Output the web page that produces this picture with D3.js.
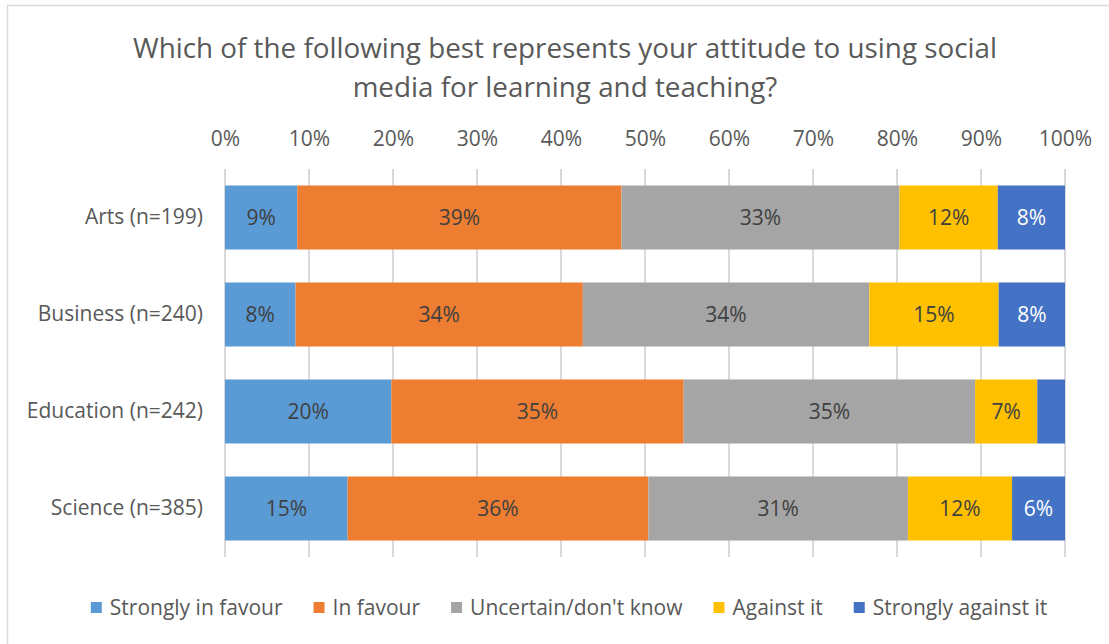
<!DOCTYPE html>
<html>
<head>
<meta charset="utf-8">
<script src="https://cdn.jsdelivr.net/npm/d3@7"></script>
<style>
  html, body { margin: 0; padding: 0; background: #ffffff; }
  svg { display: block; font-family: "Open Sans", "Noto Sans", sans-serif; }
</style>
</head>
<body>
<svg id="chart" width="1109" height="644"></svg>
<script>
// Survey responses by faculty, percent of respondents
const categories = ["Arts (n=199)", "Business (n=240)", "Education (n=242)", "Science (n=385)"];
const seriesNames = ["Strongly in favour", "In favour", "Uncertain/don't know", "Against it", "Strongly against it"];
const stronglyInFavour = [8.6, 8.4, 19.8, 14.6];
const inFavour = [38.6, 34.2, 34.8, 35.8];
const uncertain = [33.1, 34.1, 34.7, 30.9];
const againstIt = [11.7, 15.4, 7.4, 12.4];
const stronglyAgainst = [8.0, 7.9, 3.3, 6.3];
const tickValues = [0, 10, 20, 30, 40, 50, 60, 70, 80, 90, 100];
const titleLines = ["Which of the following best represents your attitude to using social", "media for learning and teaching?"];

const seriesValues = [stronglyInFavour, inFavour, uncertain, againstIt, stronglyAgainst];
const colors = ["#5B9BD5", "#ED7D31", "#A5A5A5", "#FFC000", "#4472C4"];
const labelColors = ["#404040", "#404040", "#404040", "#404040", "#ffffff"];
const fontSize = 21;

const svg = d3.select("#chart");
const W = 1109, H = 644;
const plot = { left: 225, right: 1065, top: 169, bottom: 557 };

// Outer chart frame
svg.append("rect")
  .attr("x", 7.5).attr("y", 5.5)
  .attr("width", W + 20).attr("height", H + 20)
  .attr("fill", "#ffffff")
  .attr("stroke", "#d9d9d9").attr("stroke-width", 1.5);

// Title
svg.append("g").selectAll("text")
  .data(titleLines).join("text")
  .attr("x", 565)
  .attr("y", (d, i) => 58 + i * 39)
  .attr("text-anchor", "middle")
  .attr("fill", "#595959")
  .attr("font-size", 27.8)
  .text(d => d);

const x = d3.scaleLinear().domain([0, 100]).range([plot.left, plot.right]);
const y = d3.scaleBand().domain(categories).range([plot.top, plot.bottom])
  .paddingInner(0.34).paddingOuter(0.17);

// Vertical gridlines
svg.append("g").selectAll("line")
  .data(tickValues).join("line")
  .attr("x1", d => x(d)).attr("x2", d => x(d))
  .attr("y1", plot.top).attr("y2", plot.bottom)
  .attr("stroke", "#d9d9d9").attr("stroke-width", 2);

// Top percentage axis
const xAxis = svg.append("g")
  .attr("transform", `translate(0, ${plot.top - 23})`)
  .call(d3.axisTop(x).tickValues(tickValues).tickFormat(d => d + "%").tickSize(0).tickPadding(0));
xAxis.select(".domain").remove();
xAxis.selectAll("text")
  .attr("fill", "#595959")
  .attr("font-size", fontSize)
  .attr("font-family", "Open Sans, Noto Sans, sans-serif");

// Category axis
const yAxis = svg.append("g")
  .attr("transform", `translate(${plot.left - 22}, 0)`)
  .call(d3.axisLeft(y).tickSize(0).tickPadding(0));
yAxis.select(".domain").remove();
yAxis.selectAll("text")
  .attr("fill", "#595959")
  .attr("font-size", fontSize)
  .attr("font-family", "Open Sans, Noto Sans, sans-serif");

// Stacked rows
const rows = categories.map((c, i) => {
  const row = { category: c };
  seriesNames.forEach((s, j) => { row[s] = seriesValues[j][i]; });
  return row;
});
const stack = d3.stack().keys(seriesNames)(rows);

const layers = svg.append("g").selectAll("g")
  .data(stack).join("g")
  .attr("fill", (d, i) => colors[i]);

layers.selectAll("rect")
  .data(d => d).join("rect")
  .attr("x", d => x(d[0]))
  .attr("y", d => y(d.data.category))
  .attr("width", d => x(d[1]) - x(d[0]))
  .attr("height", y.bandwidth());

// Data labels (segments under 5% are left unlabelled)
const fmt = v => Math.round(v) + "%";
layers.each(function (layer, li) {
  d3.select(this).selectAll("text")
    .data(layer.filter(d => d[1] - d[0] >= 5)).join("text")
    .attr("x", d => (x(d[0]) + x(d[1])) / 2)
    .attr("y", d => y(d.data.category) + y.bandwidth() / 2)
    .attr("dy", "0.35em")
    .attr("text-anchor", "middle")
    .attr("fill", labelColors[li])
    .attr("font-size", fontSize)
    .text(d => fmt(d[1] - d[0]));
});

// Legend, centred under the plot
const legend = svg.append("g").attr("transform", "translate(0, 608)");
const items = legend.selectAll("g").data(seriesNames).join("g");
items.append("rect")
  .attr("width", 11).attr("height", 11)
  .attr("y", -6)
  .attr("fill", (d, i) => colors[i]);
items.append("text")
  .attr("x", 19)
  .attr("dy", "0.35em")
  .attr("fill", "#595959")
  .attr("font-size", fontSize)
  .text(d => d);
let widths = [];
items.each(function () { widths.push(19 + d3.select(this).select("text").node().getComputedTextLength()); });
const gap = 31;
const total = d3.sum(widths) + gap * (widths.length - 1);
let cx = 569 - total / 2;
items.each(function (d, i) {
  d3.select(this).attr("transform", `translate(${cx}, 0)`);
  cx += widths[i] + gap;
});
</script>
</body>
</html>
